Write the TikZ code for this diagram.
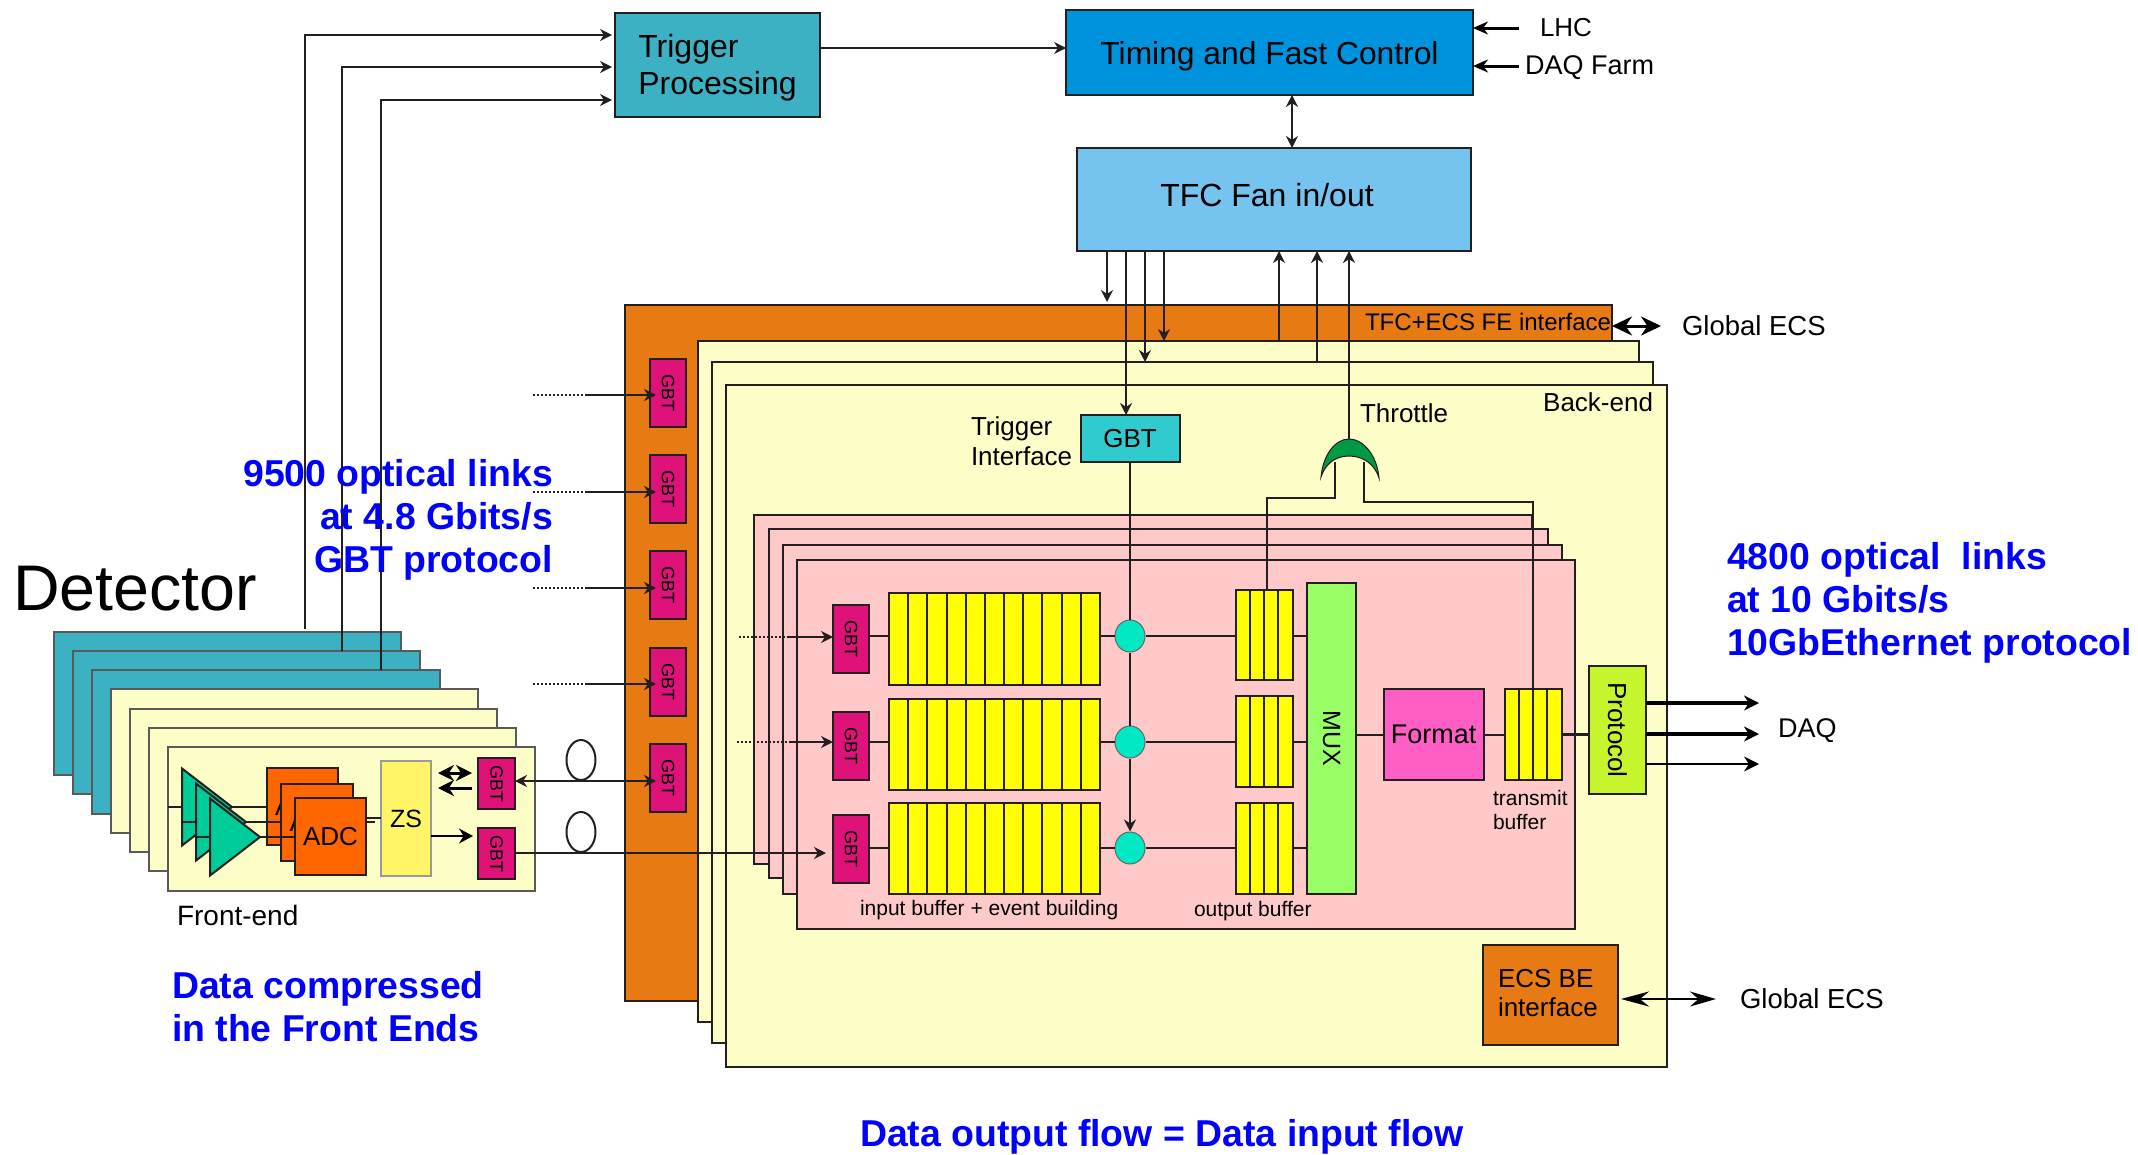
\documentclass[tikz,border=0pt]{standalone}
\usepackage{fontspec}
\setmainfont{Liberation Sans}
\usetikzlibrary{arrows.meta, positioning, shapes.geometric, calc}
\definecolor{boardteal}{RGB}{61, 177, 196}
\definecolor{boardcream}{RGB}{253, 253, 200}
\definecolor{cardpink}{RGB}{255, 201, 201}
\definecolor{ifaceorange}{RGB}{232, 122, 20}
\definecolor{gbtmagenta}{RGB}{222, 18, 120}
\definecolor{bufyellow}{RGB}{255, 255, 0}
\definecolor{muxgreen}{RGB}{153, 255, 102}
\definecolor{fmtpink}{RGB}{255, 95, 196}
\definecolor{protolime}{RGB}{198, 245, 46}
\definecolor{tfcblue}{RGB}{0, 147, 221}
\definecolor{fanblue}{RGB}{117, 195, 239}
\definecolor{gbtcyan}{RGB}{47, 203, 207}
\definecolor{swcyan}{RGB}{0, 232, 196}
\definecolor{gategreen}{RGB}{0, 153, 68}
\definecolor{adcorange}{RGB}{255, 102, 0}
\definecolor{zsyellow}{RGB}{255, 245, 102}
\definecolor{ampgreen}{RGB}{0, 204, 153}
\definecolor{linedark}{RGB}{35, 31, 32}

\begin{document}
\begin{tikzpicture}[
        x=1pt, y=-1pt, line width=2pt, draw=linedark,
        box/.style n args={2}{rectangle, draw=linedark, minimum width=#1pt, minimum height=#2pt, inner sep=0pt, outer sep=0pt},
        card/.style n args={2}{box={#1}{#2}, anchor=north west},
        gbt/.style n args={2}{box={#1}{#2}, rotate=-90, fill=gbtmagenta, text=black, font=\fontsize{18}{20}\selectfont},
        buf/.style={fill=bufyellow, path picture={
            \foreach \k in {1,...,#1}
                \draw ($(path picture bounding box.north west)!\k/#1!(path picture bounding box.north east)$) -- ($(path picture bounding box.south west)!\k/#1!(path picture bounding box.south east)$);
        }},
        sw/.style={ellipse, draw=black!60, fill=swcyan, minimum width=30pt, minimum height=32pt, inner sep=0pt, line width=1pt},
        fib/.style={ellipse, draw=linedark, minimum width=29pt, minimum height=40pt, inner sep=0pt},
        amp/.style={isosceles triangle, isosceles triangle stretches, shape border rotate=0, draw=linedark, fill=ampgreen, minimum width=77pt, minimum height=50pt, inner sep=0pt, outer sep=0pt, anchor=apex},
        lbl/.style={inner sep=0pt, font=\fontsize{#1}{1.15\dimexpr#1pt\relax}\selectfont},
        note/.style={inner sep=0pt, text=blue, font=\fontsize{37.4}{43}\selectfont\bfseries},
        arr/.style={->, >={Stealth[length=12pt, width=12pt]}},
        bigarr/.style={-{Stealth[length=15pt, width=15pt]}, black},
        dbl/.style={{Stealth[length=20pt, width=19pt]}-{Stealth[length=20pt, width=19pt]}, black, line width=3pt}
    ]
        \useasboundingbox (0,0) rectangle (2138,1154);

        % Cartes front-end
        \node[card={347}{143}, fill=boardteal, draw=black!65] (teal1) at (54,632) {};
        \node[card={347}{143}, fill=boardteal, draw=black!65] (teal2) at (73,651) {};
        \node[card={348}{144}, fill=boardteal, draw=black!65] (teal3) at (92,670) {};
        \node[card={367}{144}, fill=boardcream, draw=black!65] (fe1) at (111,689) {};
        \node[card={367}{143}, fill=boardcream, draw=black!65] (fe2) at (130,709) {};
        \node[card={367}{143}, fill=boardcream, draw=black!65] (fe3) at (149,728) {};
        \node[card={367}{144}, fill=boardcream, draw=black!65] (fe4) at (168,747) {};

        % Amplis, ADC et ZS
        \node[card={71}{77}, fill=adcorange, lbl=26] (adc1) at (267,768) {ADC};
        \node[card={72}{77}, fill=adcorange, lbl=26] (adc2) at (281,784) {ADC};
        \node[card={71}{77}, fill=adcorange, lbl=26] (adc3) at (295,798) {ADC};
        \node[amp] (amp1) at (232,807) {};
        \node[amp] (amp2) at (246,822) {};
        \node[amp] (amp3) at (260,837) {};
        \coordinate (in1) at (168,807);
        \coordinate (in2) at (181,822);
        \coordinate (in3) at (196,837);
        \draw (in1) -- (amp1.lower side |- in1);
        \draw (in2) -- (amp2.lower side |- in2);
        \draw (in3) -- (amp3.lower side |- in3);
        \draw (amp1.apex) -- (adc1.west |- amp1.apex);
        \draw (amp2.apex) -- (adc2.west |- amp2.apex);
        \draw (amp3.apex) -- (adc3.west |- amp3.apex);
        \node[card={50}{115}, fill=zsyellow, draw=black!40, lbl=25] (zs) at (381,761) {ZS};
        \coordinate (zsin) at (381,818);
        \coordinate (zsstub) at (375,822);
        \draw (adc3.east |- zsin) -- (zsin);
        \draw[line width=1.5pt] (adc3.east |- zsstub) -- (zsstub);
        \node[gbt={51}{37}] (gbtfe1) at (496.5,783.5) {GBT};
        \node[gbt={51}{37}] (gbtfe2) at (496.5,853.5) {GBT};
        \coordinate (feup1) at (438,773);
        \coordinate (feup2) at (472,773);
        \coordinate (fedown1) at (472,788);
        \coordinate (fedown2) at (438,788);
        \coordinate (fetip) at (473,836);
        \draw[{Stealth[length=16pt, width=16pt]}-{Stealth[length=16pt, width=16pt]}, black, line width=3pt] (feup1) -- (feup2);
        \draw[-{Stealth[length=16pt, width=16pt]}, black, line width=3pt] (fedown1) -- (fedown2);
        \draw[-{Stealth[length=14pt, width=15pt]}, black] (zs.east |- fetip) -- (fetip);
        \node[lbl=28, anchor=west] (felabel) at (176,915) {Front-end};

        % Trigger et TFC
        \node[box={205}{104}, fill=boardteal] (trigproc) at (717.5,65) {};
        \node[lbl=32, align=left] (trigtext) at (717.5,67.5) {Trigger\\Processing};
        \node[box={407}{85}, fill=tfcblue, lbl=31.8, text depth=0pt] (tfc) at (1269.5,52.5) {Timing and Fast Control};
        \node[box={394}{103}, fill=fanblue] (fan) at (1274,199.5) {};
        \node[lbl=32] (fantext) at (1267,195) {TFC Fan in/out};
        \coordinate (lhcin) at (1519,28);
        \coordinate (daqin) at (1519,66);
        \draw[-{Stealth[length=15pt, width=13pt]}, black, line width=3pt] (lhcin) -- (tfc.east |- lhcin);
        \draw[-{Stealth[length=15pt, width=13pt]}, black, line width=3pt] (daqin) -- (tfc.east |- daqin);
        \node[lbl=26, right=20pt of lhcin] (lhc) {LHC};
        \node[lbl=27, anchor=west] (daqfarm) at (1524,68) {DAQ Farm};
        \draw[arr] (trigproc.east |- 0,48) -- (tfc.west |- 0,48);
        \coordinate (tfclink) at (1292,96);
        \draw[arr, <->] (tfc.south -| tfclink) -- (fan.north -| tfclink);

        % Cartes back-end
        \node[card={987}{696}, fill=ifaceorange] (ecsfe) at (625,305) {};
        \node[card={941}{681}, fill=boardcream] (be1) at (698,341) {};
        \node[card={941}{681}, fill=boardcream] (be2) at (712,362) {};
        \node[card={941}{682}, fill=boardcream] (be3) at (726,385) {};
        \node[lbl=24, anchor=west] (fetext) at (1364,322) {TFC+ECS FE interface};
        \node[lbl=26, anchor=east] (belabel) at (1654,402) {Back-end};
        \node[box={99}{47}, fill=gbtcyan, lbl=26] (gbtif) at (1130,438.5) {GBT};
        \node[lbl=26, anchor=west, align=left] (triglabel) at (970,441) {Trigger\\Interface};
        \node[lbl=26, anchor=west] (throttle) at (1359,413) {Throttle};
        \node[gbt={68}{36}] (gbtc1) at (668,393) {GBT};
        \node[gbt={68}{36}] (gbtc2) at (668,489) {GBT};
        \node[gbt={68}{36}] (gbtc3) at (668,585) {GBT};
        \node[gbt={68}{36}] (gbtc4) at (668,681.5) {GBT};
        \node[gbt={68}{36}] (gbtc5) at (668,778) {GBT};

        % Cartes de traitement
        \node[card={778}{349}, fill=cardpink] (pink1) at (754,515) {};
        \node[card={779}{349}, fill=cardpink] (pink2) at (769,529) {};
        \node[card={779}{349}, fill=cardpink] (pink3) at (782.5,545) {};
        \node[card={778}{369}, fill=cardpink] (pink4) at (797,560) {};

        % Buffers
        \node[gbt={68}{36}] (gin1) at (851,639) {GBT};
        \node[gbt={68}{36}] (gin2) at (851,746) {GBT};
        \node[gbt={68}{36}] (gin3) at (851,849) {GBT};
        \node[box={211}{92}, buf=11] (ibuf1) at (994.5,639) {};
        \node[box={211}{91}, buf=11] (ibuf2) at (994.5,744.5) {};
        \node[box={211}{91}, buf=11] (ibuf3) at (994.5,848) {};
        \node[sw] (sw1) at (1130,636) {};
        \node[sw] (sw2) at (1130,742) {};
        \node[sw] (sw3) at (1130,848) {};
        \node[box={57}{90}, buf=4] (obuf1) at (1264,635) {};
        \node[box={57}{91}, buf=4] (obuf2) at (1264,741.5) {};
        \node[box={57}{91}, buf=4] (obuf3) at (1264,848) {};
        \node[box={311}{49}, rotate=-90, fill=muxgreen, lbl=25] (mux) at (1331.5,738) {MUX};
        \node[box={100}{91}, fill=fmtpink, lbl=27] (format) at (1433.5,734.5) {Format};
        \node[box={57}{91}, buf=4] (txbuf) at (1533,734.5) {};
        \node[box={128}{57}, rotate=-90, fill=protolime, lbl=26] (proto) at (1617.5,730) {Protocol};
        \node[lbl=21, anchor=west] (inlabel) at (859,910) {input buffer + event building};
        \node[lbl=21, anchor=west] (outlabel) at (1193,911) {output buffer};
        \node[lbl=21, anchor=west, align=left] (txlabel) at (1492,810) {transmit\\buffer};
        \node[box={135}{100}, fill=ifaceorange] (ecsbe) at (1550.5,995) {};
        \node[lbl=26, anchor=west, align=left] (ecsbetext) at (1497,993) {ECS BE\\interface};

        % Liens internes
        \draw (gin1.north |- sw1) -- (ibuf1.west |- sw1);
        \draw (gin2.north |- sw2) -- (ibuf2.west |- sw2);
        \draw (gin3.north |- sw3) -- (ibuf3.west |- sw3);
        \draw (sw1.west -| ibuf1.east) -- (sw1.west);
        \draw (sw2.west -| ibuf2.east) -- (sw2.west);
        \draw (sw3.west -| ibuf3.east) -- (sw3.west);
        \draw (sw1.east) -- (sw1.east -| obuf1.west);
        \draw (sw2.east) -- (sw2.east -| obuf2.west);
        \draw (sw3.east) -- (sw3.east -| obuf3.west);
        \draw (obuf1.east |- sw1) -- (mux.south |- sw1);
        \draw (obuf2.east |- sw2) -- (mux.south |- sw2);
        \draw (obuf3.east |- sw3) -- (mux.south |- sw3);
        \draw (mux.north |- format) -- (format.west);
        \draw (format.east) -- (txbuf.west);
        \draw[line width=3pt] (txbuf.east) -- (txbuf.east -| proto.south);
        \draw (gbtif.south) -- (sw1.north);
        \draw (sw1.south) -- (sw2.north);
        \draw[arr] (sw2.south) -- (sw3.north);

        % Throttle
        \coordinate (gateleft) at (1335,498);
        \coordinate (gateright) at (1364,502);
        \coordinate (gatelefttop) at (1335,462);
        \coordinate (gaterighttop) at (1364,462);
        \coordinate (gate) at (1349,439);
        \coordinate (obuftap) at (1266.5,590);
        \draw (obuftap) |- (gateleft) -- (gatelefttop);
        \draw (txbuf.north) |- (gateright) -- (gaterighttop);
        \draw[fill=gategreen, line width=1pt] (1321,477) .. controls (1323,455) and (1335,439) .. (gate) .. controls (1363,439) and (1377,455) .. (1379,478) .. controls (1375,465) and (1364,456) .. (1349,456) .. controls (1334,456) and (1325,465) .. cycle;

        % Liens TFC
        \coordinate (fanout1) at (1107,251);
        \coordinate (fanout2) at (1126,251);
        \coordinate (fanout3) at (1145,251);
        \coordinate (fanout4) at (1164,251);
        \coordinate (fanin1) at (1279,251);
        \coordinate (fanin2) at (1317,251);
        \coordinate (fanin3) at (1349,251);
        \draw[arr, shorten >=3pt] (fanout1) -- (fanout1 |- ecsfe.north);
        \draw[arr] (fanout2) -- (fanout2 |- gbtif.north);
        \draw[arr] (fanout3) -- (fanout3 |- be2.north);
        \draw[arr] (fanout4) -- (fanout4 |- be1.north);
        \draw[arr] (fanin1 |- be1.north) -- (fanin1);
        \draw[arr] (fanin2 |- be2.north) -- (fanin2);
        \draw[arr] (gate) -- (fanin3);

        % Global ECS
        \coordinate (ecstip) at (1661,326);
        \draw[dbl] (ecsfe.east |- ecstip) -- (ecstip);
        \node[lbl=27.5, right=20pt of ecstip] (ecsglobal1) {Global ECS};
        \coordinate (ecsbetip) at (1716,999);
        \coordinate (ecsbefrom) at (1621,999);
        \draw[{Stealth[length=28pt, width=15pt]}-{Stealth[length=26pt, width=15pt]}, black] (ecsbefrom) -- (ecsbetip);
        \node[lbl=27.5, right=23pt of ecsbetip] (ecsglobal2) {Global ECS};

        % Sortie DAQ
        \coordinate (daq1) at (1759,703);
        \coordinate (daq2) at (1759,734);
        \coordinate (daq3) at (1759,764);
        \draw[bigarr, line width=3.5pt] (daq1 -| proto.north) -- (daq1);
        \draw[bigarr, line width=3.5pt] (daq2 -| proto.north) -- (daq2);
        \draw[bigarr] (daq3 -| proto.north) -- (daq3);
        \node[lbl=27, anchor=west] (daqlabel) at (1777,731) {DAQ};

        % Liens optiques
        \coordinate (dot1) at (533,395);
        \coordinate (dot2) at (533,492);
        \coordinate (dot3) at (533,588);
        \coordinate (dot4) at (533,684);
        \coordinate (solid1) at (587,395);
        \coordinate (solid2) at (587,492);
        \coordinate (solid3) at (587,588);
        \coordinate (solid4) at (587,684);
        \draw[dotted] (dot1) -- (solid1);
        \draw[dotted] (dot2) -- (solid2);
        \draw[dotted] (dot3) -- (solid3);
        \draw[dotted] (dot4) -- (solid4);
        \draw[arr, shorten >=-6pt] (solid1) -- (gbtc1.south |- solid1);
        \draw[arr, shorten >=-6pt] (solid2) -- (gbtc2.south |- solid2);
        \draw[arr, shorten >=-6pt] (solid3) -- (gbtc3.south |- solid3);
        \draw[arr, shorten >=-6pt] (solid4) -- (gbtc4.south |- solid4);
        \node[fib] (fib1) at (581,760) {};
        \node[fib] (fib2) at (581,832) {};
        \draw[arr, <->, shorten >=-6pt] (gbtfe1.north |- fib1.south) -- (gbtc5.south |- fib1.south);
        \coordinate (dot5) at (739,637);
        \coordinate (dot6) at (737,742);
        \coordinate (solid5) at (789,637);
        \coordinate (solid6) at (789,742);
        \draw[dotted] (dot5) -- (solid5);
        \draw[dotted] (dot6) -- (solid6);
        \draw[arr] (solid5) -- (gin1.south |- solid5);
        \draw[arr] (solid6) -- (gin2.south |- solid6);
        \draw[arr, shorten >=7pt] (gbtfe2.north |- fib2.south) -- (gin3.south |- fib2.south);

        % Liens vers le trigger
        \coordinate (lk1) at (305,629);
        \coordinate (lk2) at (342,651);
        \coordinate (lk3) at (381,670);
        \coordinate (tin1) at (612,35);
        \coordinate (tin2) at (612,67);
        \coordinate (tin3) at (612,100);
        \draw[arr] (lk1) |- (tin1);
        \draw[arr] (lk2) |- (tin2);
        \draw[arr] (lk3) |- (tin3);

        % Textes
        \node[inner sep=0pt, anchor=west, font=\fontsize{64.5}{70}\selectfont] (detector) at (12,589) {Detector};
        \node[note, anchor=east, align=right] (linksin) at (554,520) {9500 optical links\\at 4.8 Gbits/s\\GBT protocol};
        \node[note, anchor=west, align=left] (linksout) at (1726,603) {4800 optical\ \ links\\at 10 Gbits/s\\10GbEthernet protocol};
        \node[note, anchor=west, align=left] (compressed) at (171,1007) {Data compressed\\in the Front Ends};
        \node[note, anchor=west] (flow) at (859,1137) {Data output flow = Data input flow};
    \end{tikzpicture}
\end{document}
